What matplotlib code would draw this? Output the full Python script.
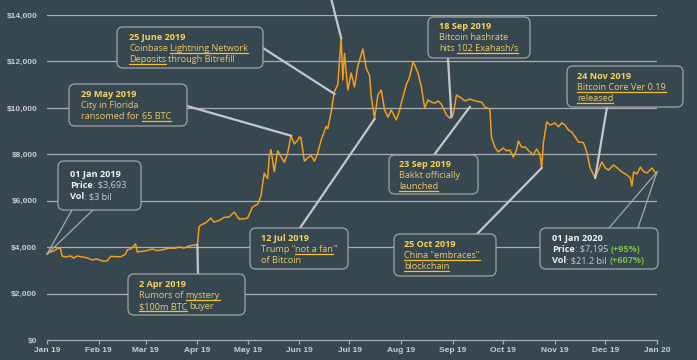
import numpy as np
import pandas as pd
import matplotlib
matplotlib.use("Agg")
import matplotlib.pyplot as plt
import matplotlib.dates as mdates
from matplotlib.patches import FancyBboxPatch
from matplotlib.lines import Line2D
from matplotlib.transforms import IdentityTransform

# ------------------------------------------------------------
# data: BTC close price 2019
# ------------------------------------------------------------
price_dates = [
    "2019-01-01", "2019-01-03", "2019-01-05", "2019-01-08", "2019-01-09", "2019-01-10",
    "2019-01-12", "2019-01-15", "2019-01-17", "2019-01-19", "2019-01-22", "2019-01-25",
    "2019-01-28", "2019-01-31", "2019-02-03", "2019-02-06", "2019-02-08", "2019-02-12",
    "2019-02-14", "2019-02-17", "2019-02-18", "2019-02-20", "2019-02-23", "2019-02-24",
    "2019-02-26", "2019-03-01", "2019-03-05", "2019-03-08", "2019-03-12", "2019-03-15",
    "2019-03-18", "2019-03-21", "2019-03-24", "2019-03-27", "2019-03-30", "2019-04-01",
    "2019-04-02", "2019-04-03", "2019-04-06", "2019-04-09", "2019-04-11", "2019-04-14",
    "2019-04-17", "2019-04-20", "2019-04-23", "2019-04-26", "2019-04-29", "2019-05-01",
    "2019-05-04", "2019-05-07", "2019-05-09", "2019-05-11", "2019-05-13", "2019-05-14",
    "2019-05-15", "2019-05-17", "2019-05-19", "2019-05-21", "2019-05-23", "2019-05-25",
    "2019-05-27", "2019-05-29", "2019-05-31", "2019-06-01", "2019-06-02", "2019-06-04",
    "2019-06-06", "2019-06-08", "2019-06-10", "2019-06-12", "2019-06-14", "2019-06-16",
    "2019-06-17", "2019-06-18", "2019-06-20", "2019-06-21", "2019-06-22", "2019-06-24",
    "2019-06-26", "2019-06-27", "2019-06-28", "2019-06-30", "2019-07-02", "2019-07-04",
    "2019-07-06", "2019-07-09", "2019-07-11", "2019-07-13", "2019-07-14", "2019-07-16",
    "2019-07-18", "2019-07-20", "2019-07-22", "2019-07-24", "2019-07-26", "2019-07-29",
    "2019-07-31", "2019-08-01", "2019-08-04", "2019-08-06", "2019-08-08", "2019-08-09",
    "2019-08-11", "2019-08-13", "2019-08-15", "2019-08-17", "2019-08-19", "2019-08-21",
    "2019-08-23", "2019-08-25", "2019-08-28", "2019-08-30", "2019-09-01", "2019-09-03",
    "2019-09-06", "2019-09-08", "2019-09-11", "2019-09-14", "2019-09-18", "2019-09-20",
    "2019-09-23", "2019-09-24", "2019-09-26", "2019-09-28", "2019-10-01", "2019-10-03",
    "2019-10-05", "2019-10-07", "2019-10-09", "2019-10-10", "2019-10-12", "2019-10-14",
    "2019-10-17", "2019-10-19", "2019-10-21", "2019-10-23", "2019-10-24", "2019-10-25",
    "2019-10-27", "2019-10-29", "2019-11-01", "2019-11-03", "2019-11-05", "2019-11-07",
    "2019-11-09", "2019-11-11", "2019-11-13", "2019-11-15", "2019-11-18", "2019-11-20",
    "2019-11-22", "2019-11-25", "2019-11-27", "2019-11-29", "2019-12-01", "2019-12-03",
    "2019-12-06", "2019-12-08", "2019-12-11", "2019-12-14", "2019-12-16", "2019-12-17",
    "2019-12-18", "2019-12-20", "2019-12-22", "2019-12-24", "2019-12-26", "2019-12-29",
    "2019-12-31",
]
price_values = [
    3705, 3790, 3835, 3960, 3950, 3620,
    3575, 3620, 3530, 3620, 3580, 3540,
    3450, 3490, 3400, 3400, 3600, 3590,
    3580, 3700, 3880, 3920, 4135, 3790,
    3820, 3835, 3920, 3850, 3900, 3960,
    3950, 4010, 3960, 4050, 4090, 4100,
    4880, 4950, 5050, 5250, 5080, 5150,
    5280, 5300, 5510, 5210, 5220, 5250,
    5730, 5850, 6200, 7190, 6950, 7900,
    8200, 7250, 8150, 7900, 7650, 8050,
    8800, 8450, 8600, 8750, 8700, 7700,
    7850, 7950, 7700, 8050, 8600, 9000,
    9200, 9100, 9800, 10300, 10700, 11000,
    13010, 11200, 12350, 10770, 11500, 10900,
    11800, 12530, 11700, 11400, 10470, 9560,
    10550, 10770, 9910, 9600, 9910, 9480,
    9900, 10210, 11000, 11330, 11970, 11850,
    11500, 10900, 9990, 10340, 10250, 10200,
    10300, 10150, 9700, 9560, 9700, 10550,
    10420, 10300, 10380, 10300, 10250, 10040,
    9950, 8700, 8310, 8100, 8270, 8150,
    8180, 7880, 8200, 8570, 8310, 8320,
    8100, 7970, 8230, 7970, 7410, 8480,
    9390, 9260, 9350, 9180, 9350, 9260,
    9050, 8960, 8750, 8530, 8500, 8100,
    7410, 6980, 7320, 7670, 7410, 7320,
    7540, 7420, 7240, 7110, 6980, 6630,
    7240, 7150, 7450, 7250, 7200, 7410,
    7200,
]

y_ticks = [0, 2000, 4000, 6000, 8000, 10000, 12000, 14000]

# annotation texts: list of lines, each line = list of (text, style)
ann_texts = [
    [[("25 June 2019", "title")],
     [("Coinbase ", "body"), ("Lightning Network", "link")],
     [("Deposits", "link"), (" through Bitrefill", "body")]],
    [[("29 May 2019", "title")],
     [("City in Florida", "body")],
     [("ransomed for ", "body"), ("65 BTC", "link")]],
    [[("01 Jan 2019", "wtitle")],
     [("Price", "label"), (": $3,693", "value")],
     [("Vol", "label"), (": $3 bil", "value")]],
    [[("2 Apr 2019", "title")],
     [("Rumors of ", "body"), ("mystery", "link")],
     [("$100m BTC", "link"), (" buyer", "body")]],
    [[("12 Jul 2019", "title")],
     [("Trump \"", "body"), ("not a fan", "link"), ("\"", "body")],
     [("of Bitcoin", "body")]],
    [[("18 Sep 2019", "title")],
     [("Bitcoin hashrate", "body")],
     [("hits ", "body"), ("102 Exahash/s", "link")]],
    [[("23 Sep 2019", "title")],
     [("Bakkt officially", "body")],
     [("launched", "link")]],
    [[("24 Nov 2019", "title")],
     [("Bitcoin Core Ver 0.19", "link")],
     [("released", "link")]],
    [[("25 Oct 2019", "title")],
     [("China \"embraces\"", "link")],
     [("blockchain", "link")]],
    [[("01 Jan 2020", "wtitle")],
     [("Price", "label"), (": $7,195 ", "value"), ("(+95%)", "green")],
     [("Vol", "label"), (": $21.2 bil ", "value"), ("(+607%)", "green")]],
]
# point on the price line each note refers to
ann_targets = [
    ("2019-06-22", 10600), ("2019-05-27", 8800), ("2019-01-01", 3700),
    ("2019-04-01", 4100), ("2019-07-16", 9520), ("2019-08-31", 9600),
    ("2019-09-11", 10040), ("2019-11-25", 6980), ("2019-10-24", 7410),
    ("2020-01-01", 7240),
]

# ------------------------------------------------------------
# layout (pixels from top-left)
# ------------------------------------------------------------
W, H = 697, 360
# box: left, top, width, height ; text x, first baseline
ann_boxes = [
    (117, 27, 146, 41, 129, 40),
    (69, 84, 118, 42, 81, 97),
    (58, 161, 83, 49, 70, 177),
    (128, 274, 117, 41, 139, 287),
    (250, 228, 98, 41, 261, 241),
    (428, 17, 102, 41, 439, 29),
    (389, 155, 89, 39, 399, 167),
    (567, 66, 116, 41, 577, 79),
    (394, 234, 102, 42, 404, 247),
    (540, 228, 118, 41, 552, 241),
]
# pointer start on box (one point) or callout tail (two points)
ann_pointers = [
    [(263, 48)], [(187, 106)], [(72, 210), (93, 210)], [(198, 274)],
    [(300, 228)], [(448, 58)], [(434, 155)], [(607, 107)], [(477, 234)],
    [(609, 228), (638, 228)],
]

BG = "#37474f"
GRID = "#a9afb3"
TICK = "#c8cdd1"
LINE = "#f29e1c"
POINTER = "#c3c7ca"
FONT = "Open Sans"
FS = 6.6
LINE_GAP = 11

styles = {
    "title": dict(color="#f7d45a", weight="bold"),
    "body": dict(color="#e6c872", weight="normal"),
    "link": dict(color="#ecca6a", weight="normal"),
    "wtitle": dict(color="#f4f4f4", weight="bold"),
    "label": dict(color="#f0f0f0", weight="bold"),
    "value": dict(color="#c5cbd0", weight="normal"),
    "green": dict(color="#7cc243", weight="bold"),
}

fig = plt.figure(figsize=(W / 100, H / 100), dpi=100, facecolor=BG)
ax = fig.add_axes([47 / W, 20 / H, 610 / W, 325 / H])
ax.set_facecolor(BG)

dates = pd.to_datetime(price_dates)
ax.plot(dates, price_values, color=LINE, linewidth=1.1, zorder=3, clip_on=False)

ax.set_xlim(pd.Timestamp("2019-01-01"), pd.Timestamp("2020-01-01"))
ax.set_ylim(0, 14000)

for v in y_ticks[1:]:
    ax.axhline(v, color=GRID, linewidth=0.9, zorder=1)

for s in ["top", "right", "left"]:
    ax.spines[s].set_visible(False)
ax.spines["bottom"].set_color(GRID)
ax.spines["bottom"].set_linewidth(0.9)

ax.set_yticks(y_ticks)
ax.set_yticklabels([f"${v:,}" for v in y_ticks])
ax.xaxis.set_major_locator(mdates.MonthLocator())
ax.xaxis.set_major_formatter(mdates.DateFormatter("%b %y"))
ax.tick_params(axis="y", length=0, pad=7, labelsize=6, labelcolor=TICK)
ax.tick_params(axis="x", length=3, width=0.9, color=GRID, pad=2,
               labelsize=6, labelcolor=TICK)
for lab in ax.get_xticklabels() + ax.get_yticklabels():
    lab.set_fontfamily("Liberation Sans")
    lab.set_fontweight("bold")

renderer = fig.canvas.get_renderer()
ident = IdentityTransform()


def text_width(s, weight):
    t = fig.text(0, 0, s, fontsize=FS, family=FONT, weight=weight, transform=ident)
    w = t.get_window_extent(renderer).width
    t.remove()
    return w


def advance(s, weight):
    # advance width of s incl. spaces, using bars as sentinels
    return text_width("|" + s + "|", weight) - text_width("||", weight)


def draw_segments(x, y, segments):
    for txt, style in segments:
        st = styles[style]
        core = txt.strip(" ")
        lead = txt[: len(txt) - len(txt.lstrip(" "))]
        x0 = x + (advance(lead, st["weight"]) if lead else 0)
        fig.text(x0, H - y, core, fontsize=FS, family=FONT, color=st["color"],
                 weight=st["weight"], transform=ident, va="baseline", ha="left",
                 zorder=6)
        if style == "link":
            w = advance(core, st["weight"])
            fig.add_artist(Line2D([x0, x0 + w], [H - y - 2.2, H - y - 2.2],
                                  color="#f2c232", linewidth=0.9, transform=ident,
                                  zorder=6))
        x += advance(txt, st["weight"])


for lines, target, box, ptr in zip(ann_texts, ann_targets, ann_boxes, ann_pointers):
    left, top, bw, bh, tx, ty = box
    tgt = ax.transData.transform((mdates.date2num(pd.Timestamp(target[0])), target[1]))
    if len(ptr) == 1:
        fig.add_artist(Line2D([ptr[0][0], tgt[0]], [H - ptr[0][1], tgt[1]],
                              color=POINTER, linewidth=1.6, transform=ident, zorder=4))
    else:
        for px, py in ptr:
            fig.add_artist(Line2D([px, tgt[0]], [H - py, tgt[1]],
                                  color="#a3a9ad", linewidth=0.9, transform=ident,
                                  zorder=4))
    fig.add_artist(FancyBboxPatch((left, H - top - bh), bw, bh,
                                  boxstyle="round,pad=0,rounding_size=6",
                                  facecolor=BG, edgecolor="#9ea4a8", linewidth=0.9,
                                  transform=ident, zorder=5))
    for i, segs in enumerate(lines):
        draw_segments(tx, ty + i * LINE_GAP, segs)

# pointer from a note above the visible area to the June peak
peak = ax.transData.transform((mdates.date2num(pd.Timestamp("2019-06-26")), 13010))
fig.add_artist(Line2D([331, peak[0]], [H + 2, peak[1]], color=POINTER,
                      linewidth=1.6, transform=ident, zorder=4))

fig.savefig("out.png", dpi=100, facecolor=BG)
